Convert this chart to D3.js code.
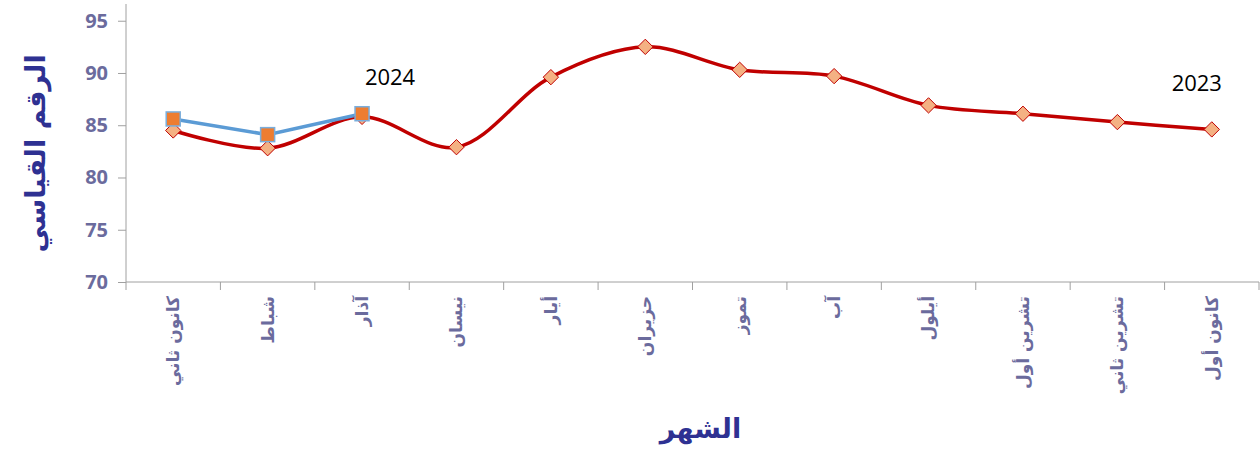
<!DOCTYPE html>
<html>
<head>
<meta charset="utf-8">
<script src="https://cdn.jsdelivr.net/npm/d3@7"></script>
<style>
  body { margin: 0; background: #fff; }
  svg { display: block; }
</style>
</head>
<body>
<svg id="chart" width="1260" height="452"></svg>
<script>
  var months = ["كانون ثاني", "شباط", "آذار", "نيسان", "أيار", "حزيران",
                "تموز", "آب", "أيلول", "تشرين أول", "تشرين ثاني", "كانون أول"];
  var values2023 = [84.5, 82.8, 85.8, 82.9, 89.6, 92.5, 90.3, 89.7, 86.9, 86.1, 85.3, 84.6];
  var values2024 = [85.6, 84.1, 86.1];
  var yTicks = [70, 75, 80, 85, 90, 95];

  var margin = { top: 4, right: 1, bottom: 170, left: 126 },
      width = 1260 - margin.left - margin.right,
      height = 452 - margin.top - margin.bottom;

  var svg = d3.select("#chart")
    .append("g")
      .attr("transform", `translate(${margin.left},${margin.top})`);

  var x = d3.scaleBand().domain(months).range([0, width]);
  var y = d3.scaleLinear().domain([70, 96.6]).range([height, 0]);

  var tickColor = "#6b6b9d", axisColor = "#a0a0a0", titleColor = "#2e3192";

  // y axis
  svg.append("g")
      .call(d3.axisLeft(y).tickValues(yTicks).tickSize(8).tickPadding(10))
      .call(g => g.select(".domain").attr("stroke", axisColor).attr("d", `M0,0V${height}`))
      .call(g => g.selectAll(".tick line").attr("stroke", axisColor))
      .call(g => g.selectAll("text")
        .attr("fill", tickColor)
        .attr("font-family", "'Open Sans', sans-serif")
        .attr("font-weight", "bold")
        .attr("font-size", "20px"));

  // x axis
  var xAxis = svg.append("g")
      .attr("transform", `translate(0,${height})`);
  xAxis.append("line")
      .attr("x1", 0).attr("x2", width)
      .attr("stroke", axisColor);
  xAxis.selectAll("line.tick")
    .data(d3.range(months.length + 1))
    .join("line")
      .attr("class", "tick")
      .attr("x1", i => i * x.step()).attr("x2", i => i * x.step())
      .attr("y1", 0).attr("y2", 8)
      .attr("stroke", axisColor);
  xAxis.selectAll("text")
    .data(months)
    .join("text")
      .attr("transform", d => `translate(${x(d) + x.bandwidth() / 2},14) rotate(-90)`)
      .attr("text-anchor", "end")
      .attr("dy", "0.35em")
      .attr("fill", tickColor)
      .attr("font-family", "'DejaVu Sans', sans-serif")
      .attr("font-weight", "bold")
      .attr("font-size", "17px")
      .text(d => d);

  // axis titles
  svg.append("text")
      .attr("transform", `translate(${-90},${y(82.3)}) rotate(-90)`)
      .attr("text-anchor", "middle")
      .attr("dy", "0.35em")
      .attr("fill", titleColor)
      .attr("font-family", "'DejaVu Sans', sans-serif")
      .attr("font-weight", "bold")
      .attr("font-size", "27px")
      .text("الرقم القياسي");

  svg.append("text")
      .attr("x", width / 2 + 8)
      .attr("y", height + 156)
      .attr("text-anchor", "middle")
      .attr("fill", titleColor)
      .attr("font-family", "'DejaVu Sans', sans-serif")
      .attr("font-weight", "bold")
      .attr("font-size", "27px")
      .text("الشهر");

  var cx = i => x(months[i]) + x.bandwidth() / 2;

  // 2023 series, smoothed
  var smooth = d3.line().x((_, i) => cx(i)).y(y).curve(d3.curveCatmullRom.alpha(0.5));
  svg.append("path")
      .attr("d", smooth(values2023))
      .attr("fill", "none")
      .attr("stroke", "#c00000")
      .attr("stroke-width", 3.5);

  // 2024 series, straight
  var straight = d3.line().x((_, i) => cx(i)).y(y);
  svg.append("path")
      .attr("d", straight(values2024))
      .attr("fill", "none")
      .attr("stroke", "#5b9bd5")
      .attr("stroke-width", 3.5);

  svg.append("g")
    .selectAll("path")
    .data(values2023)
    .join("path")
      .attr("d", d3.symbol(d3.symbolDiamond2, 150))
      .attr("transform", (d, i) => `translate(${cx(i)},${y(d)})`)
      .attr("fill", "#f4b183")
      .attr("stroke", "#c00000")
      .attr("stroke-width", 1);

  svg.append("g")
    .selectAll("rect")
    .data(values2024)
    .join("rect")
      .attr("x", (d, i) => cx(i) - 7)
      .attr("y", d => y(d) - 7)
      .attr("width", 14).attr("height", 14)
      .attr("fill", "#ed7d31")
      .attr("stroke", "#7aaedc")
      .attr("stroke-width", 1.5);

  // series labels
  var seriesLabels = [{ text: "2024", i: 2, v: 89.6, dx: 28 }, { text: "2023", i: 11, v: 89.0, dx: -15 }];
  svg.append("g")
    .selectAll("text")
    .data(seriesLabels)
    .join("text")
      .attr("x", d => cx(d.i) + d.dx)
      .attr("y", d => y(d.v))
      .attr("text-anchor", "middle")
      .attr("dy", "0.35em")
      .attr("font-family", "'Open Sans', sans-serif")
      .attr("font-size", "22px")
      .attr("fill", "#000")
      .text(d => d.text);
</script>
</body>
</html>
